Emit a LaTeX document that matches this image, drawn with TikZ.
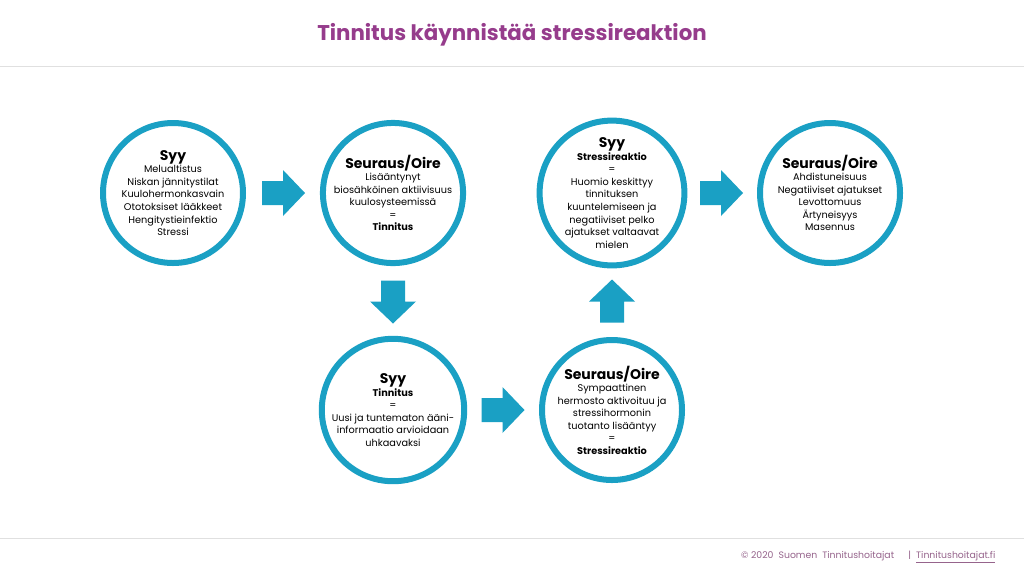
\documentclass[tikz,border=0pt]{standalone}
\usepackage{fontspec}
\setmainfont{Poppins}
\usetikzlibrary{calc}
\definecolor{ring}{RGB}{26,160,196}
\definecolor{titlec}{RGB}{150,60,140}
\definecolor{footc}{RGB}{150,100,140}
\begin{document}
\begin{tikzpicture}[x=0.75pt,y=-0.75pt,
  circ/.style={circle,draw=ring,line width=4.5pt,minimum size=140*0.75pt,inner sep=0pt,align=center,font=\fontsize{7.3}{9.4}\selectfont},
  fatarrow/.pic={\fill[ring] (-21,-12) -- (0,-12) -- (0,-23) -- (22,0) -- (0,23) -- (0,12) -- (-21,12) -- cycle;}]
\useasboundingbox (0,0) rectangle (1024,576);
\fill[white] (0,0) rectangle (1024,576);
\node[font=\bfseries\fontsize{16}{19}\selectfont,text=titlec] (title) at (512,35) {Tinnitus käynnistää stressireaktion};
\draw[black!12,line width=0.6pt] (0,66) -- (1024,66);
\draw[black!12,line width=0.6pt] (0,538) -- (1024,538);
\newcommand{\hd}[1]{{\bfseries\fontsize{10.5}{12}\selectfont #1}\\}
\newcommand{\bb}[1]{{\bfseries #1}}
\node[circ] (c1) at (173,193) {\hd{Syy}Melualtistus\\Niskan jännitystilat\\Kuulohermonkasvain\\Ototoksiset lääkkeet\\Hengitystieinfektio\\Stressi};
\node[circ] (c2) at (393,193) {\hd{Seuraus/Oire}Lisääntynyt\\biosähköinen aktiivisuus\\kuulosysteemissä\\=\\\bb{Tinnitus}};
\node[circ] (c3) at (612,193) {\hd{Syy}\bb{Stressireaktio}\\=\\Huomio keskittyy\\tinnituksen\\kuuntelemiseen ja\\negatiiviset pelko\\ajatukset valtaavat\\mielen};
\node[circ] (c4) at (830,193) {\hd{Seuraus/Oire}Ahdistuneisuus\\Negatiiviset ajatukset\\Levottomuus\\Ärtyneisyys\\Masennus};
\node[circ] (c5) at (393,410) {\hd{Syy}\bb{Tinnitus}\\=\\Uusi ja tuntematon ääni-\\informaatio arvioidaan\\uhkaavaksi};
\node[circ] (c6) at (612,410) {\hd{Seuraus/Oire}Sympaattinen\\hermosto aktivoituu ja\\stressihormonin\\tuotanto lisääntyy\\=\\\bb{Stressireaktio}};
\coordinate (a1) at ($(c1)!0.5!(c2)$);
\coordinate (a2) at ($(c3)!0.5!(c4)$);
\coordinate (a3) at ($(c5)!0.5!(c6)$);
\coordinate (a4) at ($(c2)!0.5!(c5)$);
\coordinate (a5) at ($(c6)!0.5!(c3)$);
\pic at (a1) {fatarrow};
\pic at (a2) {fatarrow};
\pic at (a3) {fatarrow};
\pic[rotate=-90] at (a4) {fatarrow};
\pic[rotate=90] at (a5) {fatarrow};
\node[anchor=east,text=footc,font=\fontsize{7}{8}\selectfont] (foot) at (1000,557) {© 2020\ \ Suomen\ \ Tinnitushoitajat\quad\ \ |\ \ \underline{Tinnitushoitajat.fi}};
\end{tikzpicture}
\end{document}
